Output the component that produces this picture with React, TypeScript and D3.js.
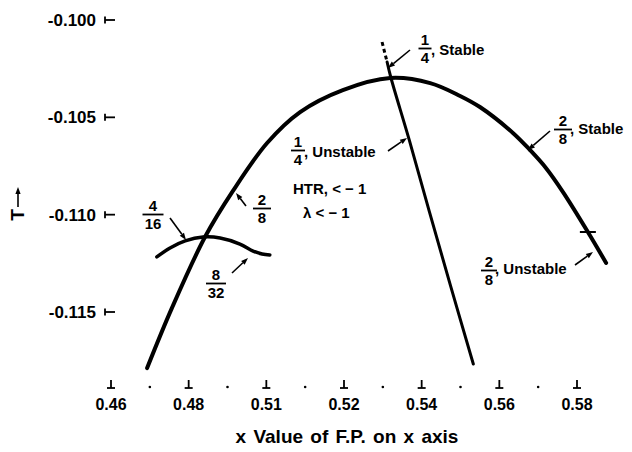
import React from "react";
import * as d3 from "d3";

// ---- data ----
const X_TICKS = [0.46, 0.48, 0.5, 0.52, 0.54, 0.56, 0.58];
const X_TICK_LABELS = ["0.46", "0.48", "0.51", "0.52", "0.54", "0.56", "0.58"];
const X_MINOR = [0.47, 0.49, 0.51, 0.53, 0.55, 0.57];
const Y_TICKS = [-0.1, -0.105, -0.11, -0.115];
const Y_TICK_LABELS = ["-0.100", "-0.105", "-0.110", "-0.115"];

// 2/8 branch (big arch)
const ARCH_X = [0.4693, 0.4757, 0.4842, 0.4914, 0.5002, 0.5087, 0.5197, 0.5319, 0.5422, 0.5499, 0.555, 0.5635, 0.5679, 0.572, 0.5764, 0.5828, 0.5875];
const ARCH_Y = [-0.11788, -0.11479, -0.11115, -0.10878, -0.10632, -0.10473, -0.1036, -0.10298, -0.10324, -0.1039, -0.10447, -0.1058, -0.10668, -0.1076, -0.10884, -0.11089, -0.11248];
// 1/4 branch (steep line), solid part
const QUARTER_X = [0.5311, 0.5321, 0.5368, 0.542, 0.5475, 0.5533];
const QUARTER_Y = [-0.10216, -0.10298, -0.10616, -0.10986, -0.1137, -0.11767];
// 1/4 branch, dashed part
const QUARTER_DASH_X = [0.5298, 0.5311];
const QUARTER_DASH_Y = [-0.10113, -0.10216];
// 4/16 and 8/32 small arc
const SMALL_X = [0.4718, 0.4752, 0.4791, 0.4837, 0.4881, 0.4932, 0.4966, 0.4989, 0.5009];
const SMALL_Y = [-0.11217, -0.11171, -0.11135, -0.11115, -0.1112, -0.11151, -0.11187, -0.11202, -0.11207];
// stability change mark on the 2/8 branch
const MARK_X = [0.5828];
const MARK_Y = [-0.11089];

const W = 632;
const H = 452;
const FONT = "'Liberation Sans', Arial, Helvetica, sans-serif";

const x = d3.scaleLinear().domain([0.46, 0.58]).range([111, 577]);
const y = d3.scaleLinear().domain([-0.1, -0.115]).range([20, 312]);

const line = d3
  .line<[number, number]>()
  .x((d) => x(d[0]))
  .y((d) => y(d[1]))
  .curve(d3.curveCatmullRom.alpha(0.5));

const zip = (a: number[], b: number[]): [number, number][] => a.map((v, i) => [v, b[i]]);

function Arrow({ x1, y1, x2, y2 }: { x1: number; y1: number; x2: number; y2: number }) {
  const a = Math.atan2(y2 - y1, x2 - x1);
  const L = 7;
  const w = 2.6;
  const bx = x2 - L * Math.cos(a);
  const by = y2 - L * Math.sin(a);
  const p1 = [bx + w * Math.sin(a), by - w * Math.cos(a)];
  const p2 = [bx - w * Math.sin(a), by + w * Math.cos(a)];
  return (
    <g>
      <line x1={x1} y1={y1} x2={bx} y2={by} stroke="#000" strokeWidth={1.6} />
      <path d={`M${x2},${y2}L${p1[0]},${p1[1]}L${p2[0]},${p2[1]}Z`} fill="#000" />
    </g>
  );
}

function Frac({ cx, top, num, den, w }: { cx: number; top: number; num: string; den: string; w: number }) {
  return (
    <g fontFamily={FONT} fontWeight="bold" fontSize={15} textAnchor="middle">
      <text x={cx} y={top + 12}>{num}</text>
      <line x1={cx - w / 2} x2={cx + w / 2} y1={top + 15.5} y2={top + 15.5} stroke="#000" strokeWidth={1.8} />
      <text x={cx} y={top + 30}>{den}</text>
    </g>
  );
}

export default function App() {
  const archPts = zip(ARCH_X, ARCH_Y);
  const quarterPts = zip(QUARTER_X, QUARTER_Y);
  const dashPts = zip(QUARTER_DASH_X, QUARTER_DASH_Y);
  const smallPts = zip(SMALL_X, SMALL_Y);

  return (
    <svg
      width={W}
      height={H}
      style={{ position: "absolute", left: 0, top: 0, background: "#fff" }}
      fontFamily={FONT}
    >
      <rect width={W} height={H} fill="#fff" />

      {/* y ticks */}
      {Y_TICKS.map((t, i) => (
        <g key={"y" + i}>
          <line x1={105} x2={115} y1={y(t)} y2={y(t)} stroke="#000" strokeWidth={1.8} />
          <line x1={105} x2={105} y1={y(t) - 3.5} y2={y(t) + 3.5} stroke="#000" strokeWidth={1.8} />
          <text x={96} y={y(t) + 6} textAnchor="end" fontSize={17} fontWeight="bold">
            {Y_TICK_LABELS[i]}
          </text>
        </g>
      ))}

      {/* x ticks */}
      {X_TICKS.map((t, i) => (
        <g key={"x" + i}>
          <line x1={x(t)} x2={x(t)} y1={380} y2={388} stroke="#000" strokeWidth={1.8} />
          <line x1={x(t) - 4} x2={x(t) + 4} y1={388} y2={388} stroke="#000" strokeWidth={1.8} />
          <text x={x(t)} y={410} textAnchor="middle" fontSize={16} fontWeight="bold">
            {X_TICK_LABELS[i]}
          </text>
        </g>
      ))}
      {X_MINOR.map((t, i) => (
        <circle key={"m" + i} cx={x(t)} cy={387} r={1.3} fill="#000" />
      ))}

      {/* axis titles */}
      <text x={347} y={443} textAnchor="middle" fontSize={19} fontWeight="bold" wordSpacing={2}>
        x Value of F.P. on x axis
      </text>
      <text
        transform="translate(24,215) rotate(-90)"
        textAnchor="middle"
        fontSize={19}
        fontWeight="bold"
      >
        T
      </text>
      <Arrow x1={18} y1={207} x2={18} y2={187} />

      {/* curves */}
      <path d={line(archPts) || ""} fill="none" stroke="#000" strokeWidth={4} strokeLinecap="round" />
      <path d={line(quarterPts) || ""} fill="none" stroke="#000" strokeWidth={3} strokeLinecap="round" />
      <path d={line(dashPts) || ""} fill="none" stroke="#000" strokeWidth={3} strokeDasharray="4,3" />
      <path d={line(smallPts) || ""} fill="none" stroke="#000" strokeWidth={3.5} strokeLinecap="round" />
      {MARK_X.map((v, i) => (
        <line key={"k" + i} x1={x(v) - 8} x2={x(v) + 8} y1={y(MARK_Y[i])} y2={y(MARK_Y[i])} stroke="#000" strokeWidth={2} />
      ))}

      {/* annotations */}
      <Frac cx={425} top={33} num="1" den="4" w={13} />
      <text x={431} y={55} fontSize={15} fontWeight="bold">, Stable</text>
      <Arrow x1={410} y1={50} x2={388} y2={68} />

      <Frac cx={563} top={114} num="2" den="8" w={18} />
      <text x={570} y={134} fontSize={15} fontWeight="bold">, Stable</text>
      <Arrow x1={550} y1={131} x2={528} y2={150} />

      <Frac cx={489} top={255} num="2" den="8" w={16} />
      <text x={495} y={274} fontSize={15} fontWeight="bold">, Unstable</text>
      <Arrow x1={575} y1={265} x2={593} y2={252} />

      <Frac cx={298} top={135} num="1" den="4" w={14} />
      <text x={304} y={157} fontSize={15} fontWeight="bold">, Unstable</text>
      <Arrow x1={388} y1={151} x2={407} y2={138} />

      <text x={293} y={194} fontSize={15} fontWeight="bold">HTR, &lt; − 1</text>
      <text x={303} y={218} fontSize={15} fontWeight="bold">λ &lt; − 1</text>

      <Frac cx={262} top={193} num="2" den="8" w={18} />
      <Arrow x1={246} y1={206} x2={236} y2={193} />

      <Frac cx={153} top={199} num="4" den="16" w={21} />
      <Arrow x1={170} y1={218} x2={186} y2={240} />

      <Frac cx={216} top={268} num="8" den="32" w={20} />
      <Arrow x1={232} y1={273} x2={248} y2={258} />
    </svg>
  );
}
